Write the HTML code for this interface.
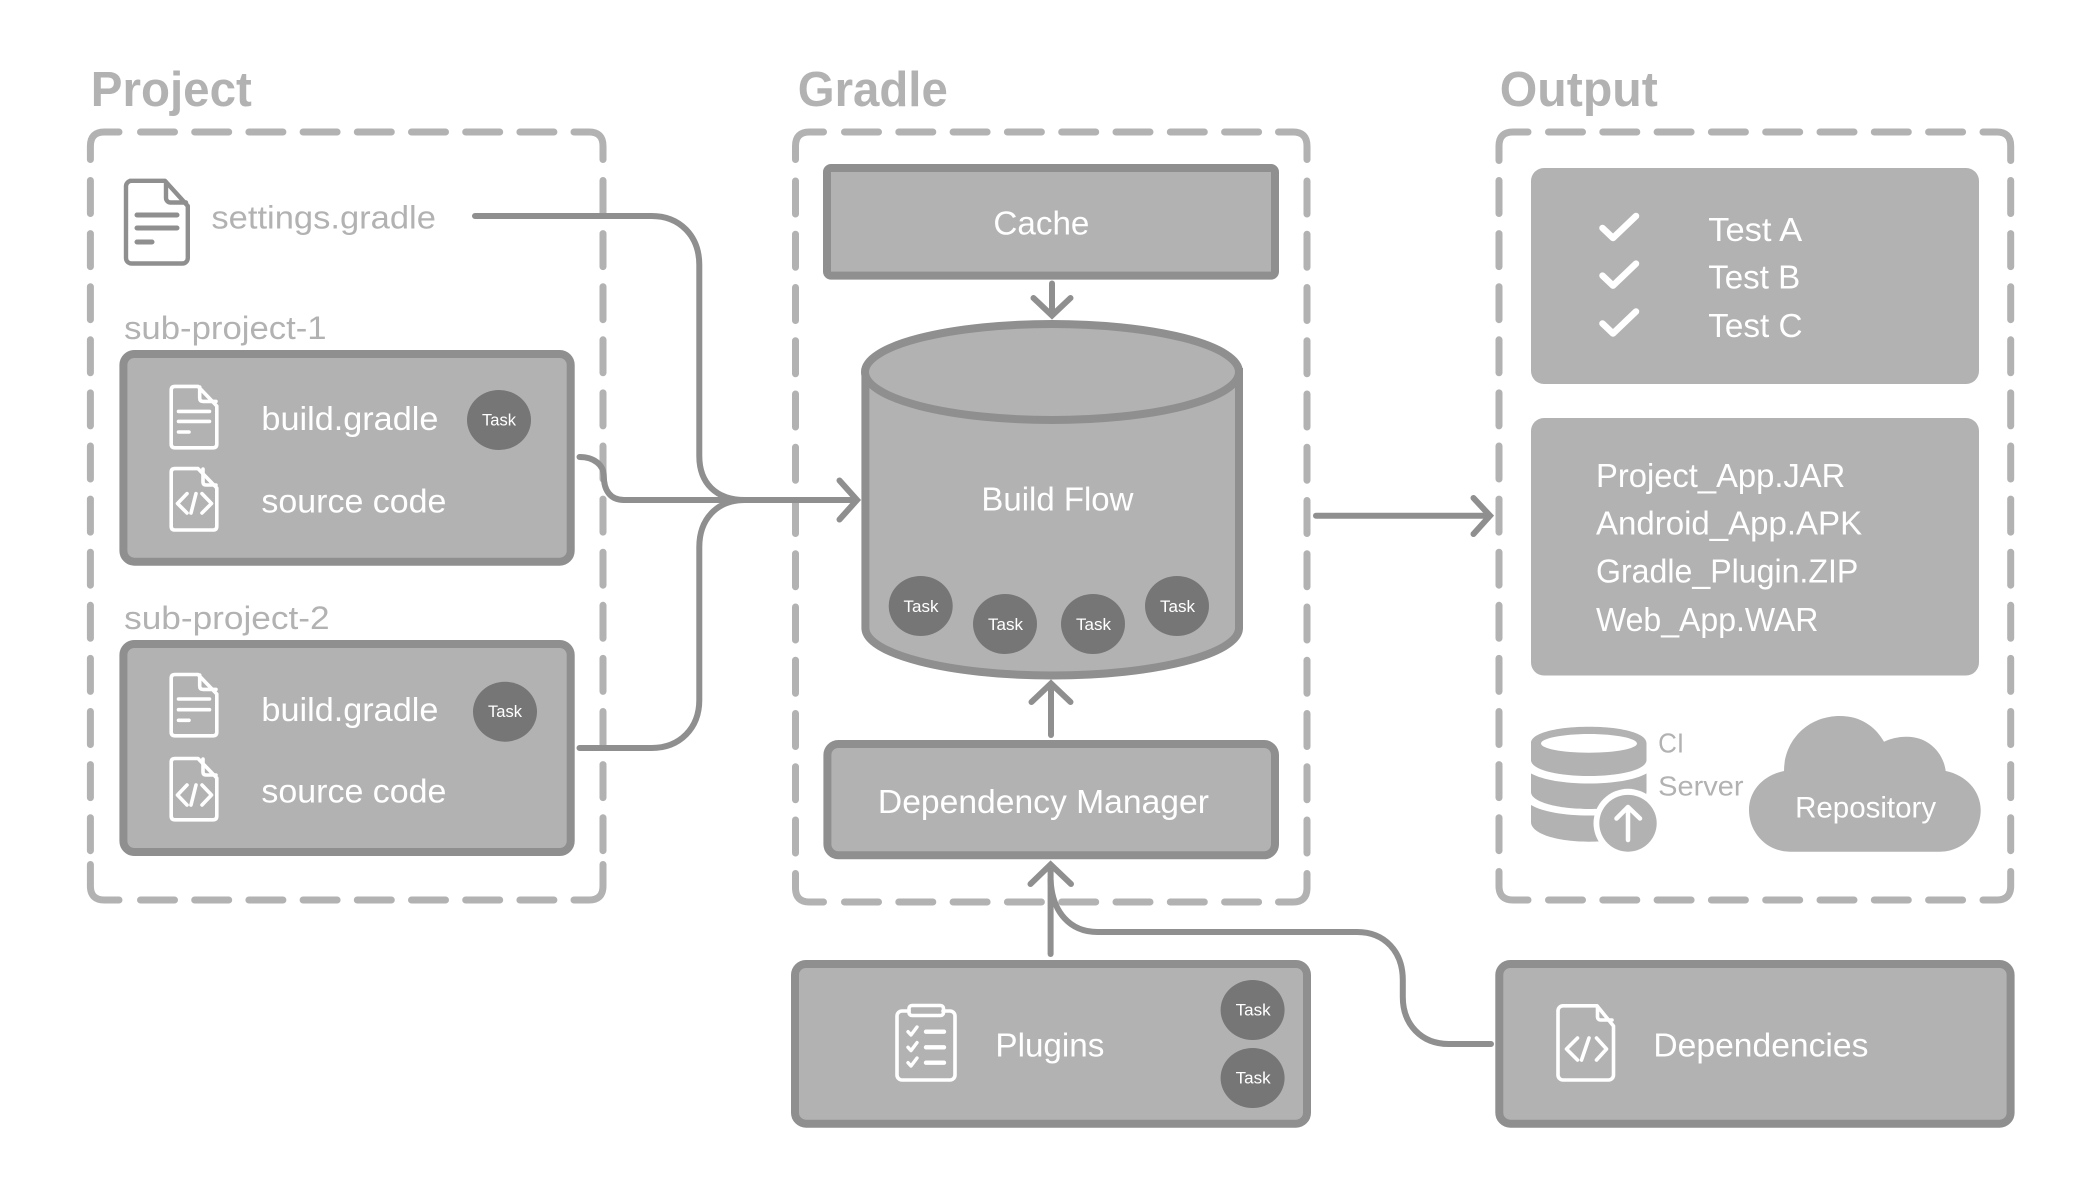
<!DOCTYPE html>
<html><head><meta charset="utf-8"><title>Gradle</title>
<style>
html,body{margin:0;padding:0;background:#fff;width:2100px;height:1200px;overflow:hidden}
svg{display:block}
text{font-family:"Liberation Sans",sans-serif;transform:translate(-.6px,.8px)}
.w{fill:#fff}.g{fill:#b2b2b2}
.h{font-size:49px;font-weight:700;fill:#b2b2b2;transform:translateX(-1.2px)}
.t{font-size:33px;fill:#fff}
.s{font-size:32px;fill:#b2b2b2}
.k{font-size:16.5px;fill:#fff;transform:translateY(-.5px)}
.box{fill:#b2b2b2;stroke:#8f8f8f;stroke-width:8}
.dash{fill:none;stroke:#b2b2b2;stroke-width:7;stroke-linecap:round}
.con{fill:none;stroke:#8f8f8f;stroke-width:6;stroke-linecap:round;stroke-linejoin:miter}
.ic{fill:none;stroke:#fff;stroke-width:3.6;stroke-linecap:round;stroke-linejoin:round}
.task{fill:#767676}
</style></head><body>
<svg width="2100" height="1200" viewBox="0 0 2100 1200" xmlns="http://www.w3.org/2000/svg">
<rect width="2100" height="1200" fill="#fff"/>

<!-- Dashed groups -->
<g class="dash">
<path d="M90.4 159.5V146Q90.4 132 104.4 132H119M574 132H589Q603 132 603 146V159.5M90.4 864.5V886Q90.4 900 104.4 900H119M574 900H589Q603 900 603 886V864.5"/>
<path stroke-dasharray="34 20.2" d="M140.5 132H554M140.5 900H554"/>
<path stroke-dasharray="33 20.1" d="M90.4 180.5V852M603 180.5V852"/>

<path d="M795.5 159.5V146Q795.5 132 809.5 132H823.5M1278.5 132H1293Q1307 132 1307 146V159.5M795.5 873.5V888Q795.5 902 809.5 902H823.5M1278.5 902H1293Q1307 902 1307 888V873.5"/>
<path stroke-dasharray="34 20.3" d="M844.5 132H1259M844.5 902H1259"/>
<path stroke-dasharray="33 20.25" d="M795.5 181V853.5M1307 181V853.5"/>

<path d="M1499 160.5V146Q1499 132 1513 132H1528M1983 132H1996.7Q2010.7 132 2010.7 146V160.5M1499 871.5V886Q1499 900 1513 900H1528M1983 900H1996.7Q2010.7 900 2010.7 886V871.5"/>
<path stroke-dasharray="34 20.3" d="M1548.5 132H1963M1548.5 900H1963"/>
<path stroke-dasharray="33 20.1" d="M1499 180.5V852M2010.7 180.5V852"/>
</g>

<!-- Titles -->
<text class="h" x="92" y="106" textLength="161" lengthAdjust="spacingAndGlyphs">Project</text>
<text class="h" x="799" y="106" textLength="150" lengthAdjust="spacingAndGlyphs">Gradle</text>
<text class="h" x="1501" y="106" textLength="158" lengthAdjust="spacingAndGlyphs">Output</text>

<!-- settings.gradle -->
<g fill="none" stroke="#8f8f8f" stroke-width="4.4" stroke-linecap="round" stroke-linejoin="round">
<path d="M130 180.8H165L187.8 206V258a5.5 5.5 0 0 1-5.5 5.5H131.5a5.5 5.5 0 0 1-5.5-5.5V186.3a5.5 5.5 0 0 1 5.5-5.5Z"/>
<path d="M166 182V198a4.5 4.5 0 0 0 4.5 4.5H186"/>
<path d="M137 215H177M137 228H177M137 242H152" stroke-width="5"/>
</g>
<text class="s" x="212" y="227.500" textLength="224.500" lengthAdjust="spacingAndGlyphs">settings.gradle</text>

<text class="s" x="124.700" y="338" textLength="202.500" lengthAdjust="spacingAndGlyphs">sub-project-1</text>
<text class="s" x="124.700" y="628" textLength="205.500" lengthAdjust="spacingAndGlyphs">sub-project-2</text>

<!-- Sub project 1 -->
<rect class="box" x="123.400" y="354" width="447.300" height="207.700" rx="11"/>
<g class="ic">
<path d="M175 386.400H198L216.800 406V444q0 3.800-3.800 3.800H175q-3.800 0-3.800-3.800V390.200q0-3.800 3.800-3.800Z"/>
<path d="M199.700 387V398q0 3.400 3.400 3.400H216"/>
<path d="M178.500 411.400H209.500M178.500 421.400H209.500M178.500 432H189"/>
<path d="M175 468.600H198L216.800 488V526.200q0 3.800-3.800 3.800H175q-3.800 0-3.800-3.800V472.400q0-3.800 3.800-3.800Z"/>
<path d="M203 469V482q0 3 3 3H216"/>
<path d="M187 493.600L177.500 503.500L187 513M202 493.600L211.500 503.500L202 513M196 493.600L191 513"/>
</g>
<text class="t" x="262" y="429" textLength="177" lengthAdjust="spacingAndGlyphs">build.gradle</text>
<text class="t" x="262" y="511.500" textLength="185" lengthAdjust="spacingAndGlyphs">source code</text>
<ellipse class="task" cx="499" cy="420" rx="32" ry="30"/>
<text class="k" x="482" y="426" textLength="34" lengthAdjust="spacingAndGlyphs">Task</text>

<!-- Sub project 2 -->
<rect class="box" x="123.400" y="644" width="447.300" height="208" rx="11"/>
<g class="ic">
<path d="M175 674.500H198L216.800 694V732q0 3.800-3.800 3.800H175q-3.800 0-3.800-3.800V678.300q0-3.800 3.800-3.800Z"/>
<path d="M199.700 675V686q0 3.400 3.400 3.400H216"/>
<path d="M178.500 699H209.500M178.500 709.700H209.500M178.500 720.300H189"/>
<path d="M175 758.500H198L216.800 778V816q0 3.800-3.800 3.800H175q-3.800 0-3.800-3.800V762.300q0-3.800 3.800-3.800Z"/>
<path d="M203 759V772q0 3 3 3H216"/>
<path d="M187 785L177.500 795L187 805M202 785L211.500 795L202 805M196 785L191 805"/>
</g>
<text class="t" x="262" y="720" textLength="177" lengthAdjust="spacingAndGlyphs">build.gradle</text>
<text class="t" x="262" y="801.700" textLength="185" lengthAdjust="spacingAndGlyphs">source code</text>
<ellipse class="task" cx="505" cy="711.700" rx="32" ry="30"/>
<text class="k" x="488" y="717.700" textLength="34" lengthAdjust="spacingAndGlyphs">Task</text>

<!-- Cache -->
<rect class="box" x="827" y="168" width="448" height="107.600" rx="4"/>
<text class="t" x="994" y="233.700" textLength="96" lengthAdjust="spacingAndGlyphs">Cache</text>

<!-- Cylinder -->
<path class="box" d="M865.400 372V628C865.400 654 949 675.500 1052 675.500S1239 654 1239 628V372Z"/>
<ellipse class="box" cx="1052" cy="372" rx="187" ry="48"/>
<text class="t" x="982" y="509.600" textLength="152" lengthAdjust="spacingAndGlyphs">Build Flow</text>
<ellipse class="task" cx="920.700" cy="606" rx="32" ry="30"/>
<ellipse class="task" cx="1005" cy="624" rx="32" ry="30"/>
<ellipse class="task" cx="1093" cy="624" rx="32" ry="30"/>
<ellipse class="task" cx="1177" cy="606" rx="32" ry="30"/>
<text class="k" x="903.500" y="612.500" textLength="35" lengthAdjust="spacingAndGlyphs">Task</text>
<text class="k" x="988" y="630.500" textLength="35" lengthAdjust="spacingAndGlyphs">Task</text>
<text class="k" x="1076" y="630.500" textLength="35" lengthAdjust="spacingAndGlyphs">Task</text>
<text class="k" x="1160" y="612.500" textLength="35" lengthAdjust="spacingAndGlyphs">Task</text>

<!-- Dependency manager -->
<rect class="box" x="827.400" y="744" width="447.600" height="111.300" rx="11"/>
<text class="t" x="878.500" y="812.300" textLength="331" lengthAdjust="spacingAndGlyphs">Dependency Manager</text>

<!-- Plugins -->
<rect class="box" x="795" y="964" width="512" height="159.700" rx="11"/>
<g class="ic">
<path d="M909 1011H902a5 5 0 0 0-5 5V1075a5 5 0 0 0 5 5H950a5 5 0 0 0 5-5V1016a5 5 0 0 0-5-5H943"/>
<rect x="909" y="1005.500" width="34.500" height="10" rx="3"/>
<path d="M908 1031.700L911 1035L917 1027M908 1047.300L911 1050.600L917 1042.600M908 1062.700L911 1066L917 1058" stroke-width="3.400"/>
<path d="M926 1031.700H944M926 1047.300H944M926 1062.700H944" stroke-width="4.400"/>
</g>
<text class="t" x="996" y="1055.700" textLength="109" lengthAdjust="spacingAndGlyphs">Plugins</text>
<ellipse class="task" cx="1252.600" cy="1010" rx="32" ry="30"/>
<ellipse class="task" cx="1252.600" cy="1078" rx="32" ry="30"/>
<text class="k" x="1235.600" y="1016" textLength="35" lengthAdjust="spacingAndGlyphs">Task</text>
<text class="k" x="1235.600" y="1084" textLength="35" lengthAdjust="spacingAndGlyphs">Task</text>

<!-- Output boxes -->
<rect class="g" x="1531" y="168" width="448" height="216" rx="13"/>
<rect class="g" x="1531" y="418" width="448" height="257.500" rx="13"/>
<g fill="none" stroke="#fff" stroke-width="6.500" stroke-linecap="round" stroke-linejoin="round">
<path d="M1602.500 228L1613 238L1636 216"/>
<path d="M1602.500 275.600L1613 285.600L1636 263.600"/>
<path d="M1602.500 323.500L1613 333.500L1636 311.500"/>
</g>
<text class="t" x="1708.800" y="240" textLength="94" lengthAdjust="spacingAndGlyphs">Test A</text>
<text class="t" x="1708.800" y="287.500" textLength="92" lengthAdjust="spacingAndGlyphs">Test B</text>
<text class="t" x="1708.800" y="336" textLength="94.300" lengthAdjust="spacingAndGlyphs">Test C</text>
<text class="t" x="1596.600" y="486" textLength="249.300" lengthAdjust="spacingAndGlyphs">Project_App.JAR</text>
<text class="t" x="1596.600" y="533.700" textLength="266.100" lengthAdjust="spacingAndGlyphs">Android_App.APK</text>
<text class="t" x="1596.600" y="581.700" textLength="262.300" lengthAdjust="spacingAndGlyphs">Gradle_Plugin.ZIP</text>
<text class="t" x="1596.600" y="630" textLength="222.400" lengthAdjust="spacingAndGlyphs">Web_App.WAR</text>

<!-- DB icon -->
<path class="g" fill-rule="evenodd" d="M1531 743C1531 733 1557 726.700 1589 726.700S1646.500 733 1646.500 743V760C1646.500 770 1620 776 1589 776S1531 770 1531 760ZM1541 743.500C1541 748.500 1562 752.700 1589 752.700S1637 748.500 1637 743.500S1616 734 1589 734S1541 738.500 1541 743.500Z"/>
<path class="g" d="M1531 773.500C1543 780 1565 783.500 1589 783.500S1635 780 1646.500 773.500V792C1646.500 802 1620 809 1589 809S1531 802 1531 792Z"/>
<path class="g" d="M1531 805C1543 812 1565 815.500 1589 815.500S1635 812 1646.500 805V822C1646.500 834 1620 841.700 1589 841.700S1531 834 1531 822Z"/>
<ellipse cx="1628" cy="823.300" rx="34.500" ry="34.500" fill="#fff"/>
<ellipse class="g" cx="1628" cy="823.300" rx="28.700" ry="28.400"/>
<path d="M1628 840V807M1616.500 818.500L1628 807L1640 818.500" fill="none" stroke="#fff" stroke-width="4.500" stroke-linecap="round" stroke-linejoin="round"/>
<text class="s" x="1658.700" y="751.700" style="font-size:28px" textLength="26" lengthAdjust="spacingAndGlyphs">CI</text>
<text class="s" x="1658.700" y="794.500" style="font-size:28px" textLength="85.500" lengthAdjust="spacingAndGlyphs">Server</text>

<!-- Cloud -->
<path class="g" d="M1784 771C1784 741 1807 716 1840 716C1860 716 1875 726 1884 741.700C1891 738.500 1898 736.700 1907 736.700C1927 736.700 1943 751 1945.700 771C1966 775 1980.700 791 1980.700 810C1980.700 834 1962 851.700 1940 851.700H1790C1767 851.700 1749 833 1749 810C1749 790 1764 775 1784 771Z"/>
<text class="t" x="1795.700" y="816.700" style="font-size:30px" textLength="141" lengthAdjust="spacingAndGlyphs">Repository</text>

<!-- Dependencies -->
<rect class="box" x="1499.300" y="964" width="511.300" height="159.700" rx="11"/>
<g class="ic">
<path d="M1563 1005.800H1597L1613.500 1026V1075a5 5 0 0 1-5 5H1563a5 5 0 0 1-5-5V1010.800a5 5 0 0 1 5-5Z"/>
<path d="M1597.500 1006.500V1017a3 3 0 0 0 3 3H1612"/>
<path d="M1577.500 1038L1566.500 1049L1577.500 1060M1596.500 1038L1606.500 1049L1596.500 1060M1589 1038L1581.500 1060"/>
</g>
<text class="t" x="1654" y="1055.700" textLength="215" lengthAdjust="spacingAndGlyphs">Dependencies</text>

<!-- Connectors -->
<g class="con">
<path d="M475 216H651.500C680 216 699.300 236 699.300 265V456C699.300 483 716 500 745 500"/>
<path d="M579.500 748H651.500C680 748 699.300 728 699.300 700V547C699.300 520 716 500 745 500"/>
<path d="M579.500 457C594 457 603.800 465 603.800 476C603.800 490 610 500 624 500H856"/>
<path d="M839.500 480.500L857 500L839.500 519.500"/>
<path d="M1052 283.500V314"/>
<path d="M1033.500 298L1052 315.500L1070.500 298"/>
<path d="M1051 735V685"/>
<path d="M1031.500 702L1051 683.500L1070.500 702"/>
<path d="M1316 515.700H1489"/>
<path d="M1473.500 498L1490 515.700L1473.500 534"/>
<path d="M1050.600 954V866"/>
<path d="M1030.500 884L1050.600 864.500L1071 884"/>
<path d="M1050.600 880C1052 912 1070 932 1097.500 932H1357C1385 932 1402.800 952 1402.800 980V997C1402.800 1024 1421 1044 1448.700 1044H1491"/>
</g>
</svg>
</body></html>
